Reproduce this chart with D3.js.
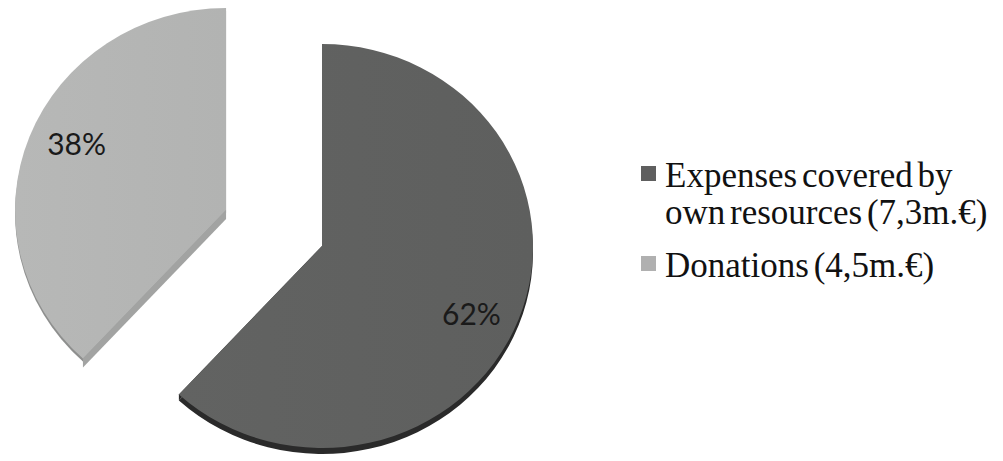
<!DOCTYPE html>
<html>
<head>
<meta charset="utf-8">
<script src="https://cdn.jsdelivr.net/npm/d3@7"></script>
<style>
  html, body { margin: 0; padding: 0; background: #ffffff; }
  svg { display: block; }
</style>
</head>
<body>
<svg id="chart" width="1003" height="461"></svg>
<script>
// ---- data ----
const categories = ["Expenses covered by own resources (7,3m.€)", "Donations (4,5m.€)"];
const legendLines = [["Expenses covered by", "own resources (7,3m.€)"], ["Donations (4,5m.€)"]];
const values = [7.3, 4.5];
const exploded = [false, true];

// ---- styles ----
const topColors = ["#5e5f5e", "#b2b3b2"];
const topColorsLight = ["#626362", "#b7b8b7"];
const rimColors = ["#2a2a2a", "#8e8f8e"];
const cutColors = ["#2a2a2a", "#a2a3a2"];
const legendColors = ["#5f5f5f", "#b0b0b0"];

const cx = 322, cy = 246;      // pie centre (un-exploded slice)
const R = 211;                 // horizontal radius
const k = 202 / 211;           // vertical squash (tilt)
const explode = 103;
const rimDepth = [6, 3];
const cutDepth = [6, 9];

const svg = d3.select("#chart");

const defs = svg.append("defs");
topColors.forEach((c, i) => {
  const g = defs.append("linearGradient").attr("id", "g" + i)
    .attr("x1", "0%").attr("y1", "0%").attr("x2", "100%").attr("y2", "0%");
  g.append("stop").attr("offset", "0%").attr("stop-color", topColorsLight[i]);
  g.append("stop").attr("offset", "100%").attr("stop-color", c);
});

const pie = d3.pie().sort(null).value(d => d).startAngle(0).endAngle(2 * Math.PI);
const arcs = pie(values);
const arc = d3.arc().innerRadius(0).outerRadius(R);
const line = d3.line();

const total = d3.sum(values);
const fmt = d3.format(".0%");

const root = svg.append("g").attr("transform", `translate(${cx},${cy})`);

function edgePt(angle) {
  return [R * Math.sin(angle), -R * Math.cos(angle) * k];
}

arcs.forEach((a, i) => {
  const mid = (a.startAngle + a.endAngle) / 2;
  const off = exploded[i] ? explode : 0;
  const ox = off * Math.sin(mid), oy = -off * Math.cos(mid) * k;
  const g = root.append("g").attr("transform", `translate(${ox},${oy})`);
  // outer rim side face
  g.append("path")
    .attr("d", arc(a))
    .attr("transform", `translate(0,${rimDepth[i]}) scale(1,${k})`)
    .attr("fill", rimColors[i]);
  // cut side faces
  [a.startAngle, a.endAngle].forEach(ang => {
    const p = edgePt(ang), d = cutDepth[i];
    g.append("path")
      .attr("d", line([[0, 0], p, [p[0], p[1] + d], [0, d]]) + "Z")
      .attr("fill", cutColors[i]);
  });
  // top face
  g.append("path")
    .attr("d", arc(a))
    .attr("transform", `scale(1,${k})`)
    .attr("fill", `url(#g${i})`);
});

// labels
const labelR = 165, labelShift = 0.065;
arcs.forEach((a, i) => {
  const mid = (a.startAngle + a.endAngle) / 2;
  const off = exploded[i] ? explode : 0;
  const ox = off * Math.sin(mid), oy = -off * Math.cos(mid) * k;
  const ang = mid + labelShift;
  root.append("text")
    .attr("x", ox + labelR * Math.sin(ang))
    .attr("y", oy - labelR * Math.cos(ang) * k)
    .attr("text-anchor", "middle")
    .attr("dominant-baseline", "central")
    .attr("font-family", "Lato, 'Open Sans', sans-serif")
    .attr("font-size", 30)
    .attr("fill", "#1a1a1a")
    .text(fmt(values[i] / total));
});

// legend
const legend = svg.append("g").attr("transform", "translate(641,0)");
const lineH = 37;
const itemBase = [187, 277];
legendLines.forEach((lines, i) => {
  legend.append("rect")
    .attr("x", 0).attr("y", itemBase[i] - 21)
    .attr("width", 15).attr("height", 15)
    .attr("fill", legendColors[i]);
  const t = legend.append("text")
    .attr("font-family", "'Liberation Serif', 'Times New Roman', serif")
    .attr("font-size", 35)
    .attr("word-spacing", -4)
    .attr("fill", "#111");
  lines.forEach((ln, j) => {
    t.append("tspan").attr("x", 24).attr("y", itemBase[i] + j * lineH).text(ln);
  });
});
</script>
</body>
</html>
